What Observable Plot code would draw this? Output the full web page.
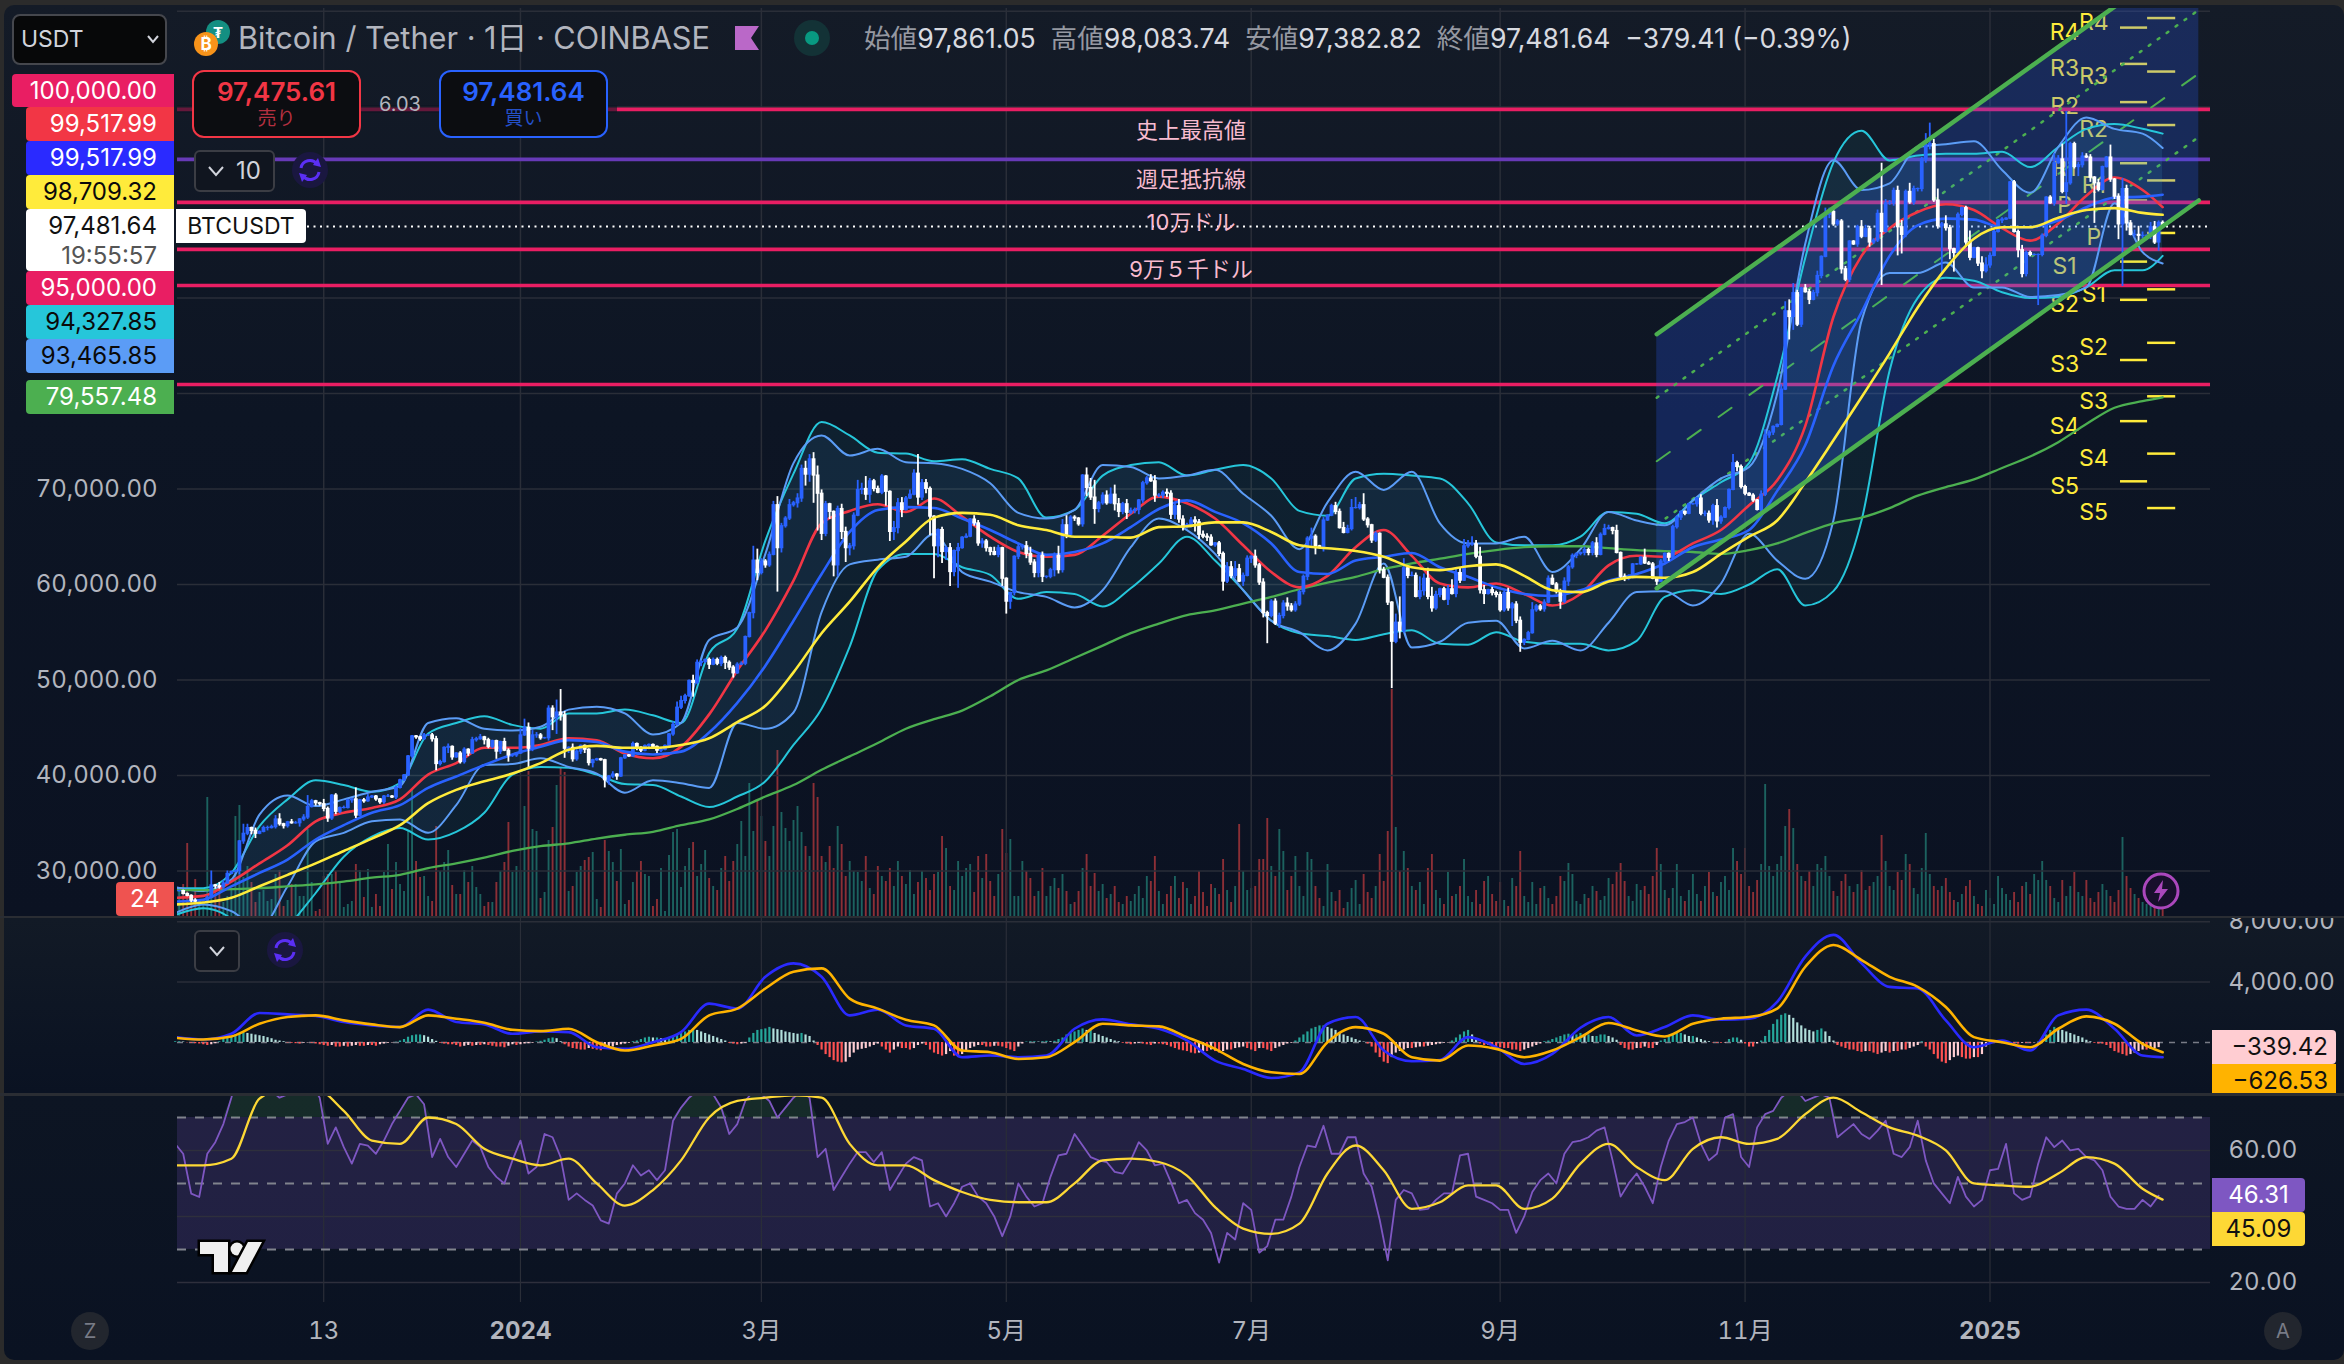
<!DOCTYPE html>
<html lang="ja"><head><meta charset="utf-8">
<script src="https://cdn.jsdelivr.net/npm/d3@7"></script>
<script src="https://cdn.jsdelivr.net/npm/@observablehq/plot@0.6"></script>
<style>
html,body{margin:0;padding:0;background:#2b2b2b;width:2344px;height:1364px;overflow:hidden}
*{box-sizing:border-box}
#page{position:absolute;left:0;top:0;width:2344px;height:1364px;font-family:Inter,"Noto Sans CJK JP",sans-serif;overflow:hidden}
.pane{position:absolute;left:4px;right:0}
.lay{position:absolute;left:0}
.lay svg{display:block}
.a{position:absolute}
.b{position:absolute;font-size:24px;text-align:right;padding-right:17px;line-height:34px;height:34px;right:2170px;width:148px}
.ic{position:absolute;border-radius:50%}
</style></head><body><div id="page">
<div class="pane" style="top:5px;height:911px;background:linear-gradient(#141b27,#0d1524 45%,#0b1222);border-radius:10px 10px 0 0"></div>
<div class="pane" style="top:918px;height:175px;background:linear-gradient(#121a26,#0a1222)"></div>
<div class="pane" style="top:1096px;height:264px;background:linear-gradient(#0d1523,#0a1222);border-radius:0 0 10px 10px"></div>
<div id="charts"></div>

<div class="a" style="left:177px;top:105px;width:440px;height:8px;background:rgba(13,20,33,.6)"></div>
<div class="a" style="left:12px;top:14px;width:155px;height:51px;background:#070809;border:2px solid #45474d;border-radius:8px;color:#d1d4dc;font-size:23px;line-height:47px;padding-left:7px">USDT
  <svg class="a" style="left:133px;top:19px" width="12" height="9"><polyline points="1,1 6,7 11,1" fill="none" stroke="#d1d4dc" stroke-width="2"/></svg></div>
<svg class="a" style="left:190px;top:18px" width="44" height="42">
  <circle cx="28" cy="14" r="12" fill="#148f82"/><text x="28" y="20" font-size="15" fill="#fff" text-anchor="middle" font-weight="700">₮</text>
  <circle cx="16" cy="26" r="12" fill="#f7931a"/><text x="16" y="32" font-size="17" fill="#fff" text-anchor="middle" font-weight="700">₿</text></svg>
<div class="a" style="left:238px;top:18px;font-size:30.7px;line-height:40px;color:#b2b5be;white-space:nowrap">Bitcoin / Tether · 1日 · COINBASE</div>
<svg class="a" style="left:735px;top:26px" width="24" height="24"><polygon points="0,0 24,0 16,12 24,24 0,24" fill="#ba68c8"/></svg>
<svg class="a" style="left:794px;top:20px" width="36" height="36"><circle cx="18" cy="18" r="18" fill="#133236"/><circle cx="18" cy="18" r="7" fill="#089981"/></svg>
<div class="a" style="left:864px;top:20px;font-size:26.6px;line-height:36px;color:#d8dae0;white-space:nowrap"><span style="color:#9598a1">始値</span>97,861.05&nbsp; <span style="color:#9598a1">高値</span>98,083.74&nbsp; <span style="color:#9598a1">安値</span>97,382.82&nbsp; <span style="color:#9598a1">終値</span>97,481.64&nbsp; −379.41 (−0.39%)</div>

<div class="a" style="left:192px;top:70px;width:169px;height:68px;background:#0c0d11;border:2px solid #f23645;border-radius:12px;text-align:center;color:#f23645;font-size:26px;line-height:30px;padding-top:5px;font-weight:600">97,475.61<div style="font-size:19px;font-weight:400;line-height:23px;color:#b53040">売り</div></div>
<div class="a" style="left:378px;top:92px;width:44px;font-size:20px;line-height:24px;color:#b2b5be;text-align:center">6.03</div>
<div class="a" style="left:439px;top:70px;width:169px;height:68px;background:#0c0d11;border:2px solid #2962ff;border-radius:12px;text-align:center;color:#2962ff;font-size:26px;line-height:30px;padding-top:5px;font-weight:600">97,481.64<div style="font-size:19px;font-weight:400;line-height:23px;color:#2450c8">買い</div></div>

<div class="a" style="left:194px;top:150px;width:81px;height:42px;border:2px solid #3b3d44;border-radius:6px;background:#10151f;color:#d1d4dc;font-size:24px;line-height:38px;padding-left:40px">10
  <svg class="a" style="left:12px;top:14px" width="16" height="11"><polyline points="1,1 8,9 15,1" fill="none" stroke="#d1d4dc" stroke-width="2"/></svg></div>
<svg class="a" style="left:292px;top:152px" width="36" height="36"><circle cx="18" cy="18" r="18" fill="#1a1740"/><path d="M9 16a9 9 0 0 1 16-4M27 20a9 9 0 0 1-16 4" fill="none" stroke="#5b2ff5" stroke-width="3"/><polygon points="26,6 29,15 21,13" fill="#5b2ff5"/><polygon points="10,30 7,21 15,23" fill="#5b2ff5"/></svg>

<div class="b" style="left:12px;right:auto;width:162px;top:74px;height:33px;line-height:33px;background:#e91e63;color:#fff;border-radius:4px 0 0 4px">100,000.00</div>
<div class="b" style="left:26px;top:107px;background:#f23645;color:#fff;border-radius:4px 0 0 4px">99,517.99</div>
<div class="b" style="left:26px;top:141px;background:#2a2aff;color:#fff;border-radius:4px 0 0 4px">99,517.99</div>
<div class="b" style="left:26px;top:175px;background:#ffeb3b;color:#0a0a0a;border-radius:4px 0 0 4px">98,709.32</div>
<div class="b" style="left:26px;top:209px;height:62px;background:#fff;color:#111;border-radius:4px 0 0 4px">97,481.64<div style="color:#555;line-height:26px">19:55:57</div></div>
<div class="b" style="left:26px;top:271px;background:#e91e63;color:#fff;border-radius:4px 0 0 4px">95,000.00</div>
<div class="b" style="left:26px;top:305px;background:#26c6da;color:#0a0a0a;border-radius:4px 0 0 4px">94,327.85</div>
<div class="b" style="left:26px;top:339px;background:#5b9cf6;color:#0a0a0a;border-radius:4px 0 0 4px">93,465.85</div>
<div class="b" style="left:26px;top:380px;background:#4caf50;color:#fff;border-radius:4px 0 0 4px">79,557.48</div>
<div class="a" style="left:176px;top:209px;width:130px;height:34px;background:#fff;color:#111;font-size:23px;line-height:34px;text-align:center;border-radius:0 4px 4px 0">BTCUSDT</div>
<div class="a" style="left:116px;top:882px;width:58px;height:34px;background:#ef5350;color:#fff;font-size:24px;line-height:34px;text-align:center;border-radius:4px 0 0 4px">24</div>

<svg class="a" style="left:2142px;top:872px" width="38" height="38"><circle cx="19" cy="19" r="17" fill="#180f2c" stroke="#ab47bc" stroke-width="3"/><polygon points="21,8 12,21 18,21 16,30 26,17 20,17" fill="#ab47bc"/></svg>

<div class="a" style="left:194px;top:930px;width:46px;height:42px;border:2px solid #3b3d44;border-radius:6px;background:#10151f">
  <svg class="a" style="left:13px;top:14px" width="16" height="11"><polyline points="1,1 8,9 15,1" fill="none" stroke="#d1d4dc" stroke-width="2"/></svg></div>
<svg class="a" style="left:267px;top:932px" width="36" height="36"><circle cx="18" cy="18" r="18" fill="#1a1740"/><path d="M9 16a9 9 0 0 1 16-4M27 20a9 9 0 0 1-16 4" fill="none" stroke="#5b2ff5" stroke-width="3"/><polygon points="26,6 29,15 21,13" fill="#5b2ff5"/><polygon points="10,30 7,21 15,23" fill="#5b2ff5"/></svg>

<div class="a" style="left:2212px;top:1030px;width:124px;height:34px;background:#ffcdd2;color:#111;font-size:24px;line-height:34px;text-align:right;padding-right:8px;border-radius:0 4px 4px 0">−339.42</div>
<div class="a" style="left:2212px;top:1064px;width:124px;height:30px;background:#ffb300;color:#111;font-size:24px;line-height:34px;text-align:right;padding-right:8px;overflow:hidden">−626.53</div>
<div class="a" style="left:2212px;top:1178px;width:93px;height:34px;background:#7e57c2;color:#fff;font-size:24px;line-height:34px;text-align:center;border-radius:0 4px 4px 0">46.31</div>
<div class="a" style="left:2212px;top:1212px;width:93px;height:34px;background:#fdd835;color:#111;font-size:24px;line-height:34px;text-align:center;border-radius:0 4px 4px 0">45.09</div>

<svg class="a" style="left:196px;top:1238px" width="70" height="42"><g stroke="#000" stroke-width="5" paint-order="stroke" fill="#f0f0f0"><polygon points="4,4 32,4 32,34 18,34 18,16 4,16"/><circle cx="41" cy="11" r="6.5"/><polygon points="52,4 66,4 50,34 36,34"/></g></svg>
<div class="a" style="left:71px;top:1312px;width:38px;height:38px;border-radius:50%;background:#22262e;color:#787b86;font-size:20px;line-height:38px;text-align:center">Z</div>
<div class="a" style="left:2264px;top:1312px;width:38px;height:38px;border-radius:50%;background:#22262e;color:#787b86;font-size:20px;line-height:38px;text-align:center">A</div>
<div class="a" style="left:0;top:916px;width:2344px;height:2px;background:#2a2d33"></div>
<div class="a" style="left:0;top:1093px;width:2344px;height:3px;background:#2a2d33"></div>
</div>
<script>
// ---- daily closes, thousand USDT, from 2023-10-07 ----
const closes=[
27.9,27.9,27.6,27.4,26.9,26.8,26.9,26.9,27.2,28.5,28.4,28.3,28.7,29.7,29.9,30.0,33.1,33.9,34.5,34.2,33.9,34.1,34.5,34.5,34.6,
35.4,34.9,34.7,35.1,35.0,35.0,35.4,35.6,36.7,37.3,37.1,37.0,36.5,35.5,37.9,36.2,36.6,36.6,37.4,37.5,35.8,37.4,37.3,37.7,37.8,37.5,37.2,37.8,37.8,37.7,
38.7,39.5,40.0,42.0,44.1,44.0,43.8,44.2,44.2,43.8,41.2,41.4,42.9,43.0,41.9,42.3,41.4,42.7,42.3,43.7,43.8,44.0,43.7,43.0,43.6,42.5,43.5,42.6,42.1,42.1,42.3,
44.2,45.0,42.8,44.2,44.2,43.9,43.9,47.0,46.1,46.6,46.3,42.8,42.9,41.7,42.5,43.1,42.7,41.3,41.6,41.7,41.6,39.5,39.9,40.1,39.9,41.8,42.1,42.0,43.3,42.9,42.6,
43.1,43.2,43.0,42.6,42.7,43.1,44.3,45.3,47.1,47.8,48.3,49.9,49.7,51.8,51.9,52.1,51.6,52.1,51.7,52.3,51.8,51.3,50.7,51.6,51.7,54.5,57.0,62.5,61.2,
62.4,62.0,63.1,68.3,63.8,66.1,66.9,68.3,68.5,69.0,72.1,71.5,73.1,71.4,69.5,65.3,68.4,67.6,62.0,67.9,65.5,63.8,64.0,67.2,69.9,70.0,69.4,70.8,70.0,69.6,71.3,
69.7,65.5,65.9,68.5,67.8,69.0,69.4,71.6,69.1,70.6,70.0,67.1,64.0,65.7,63.4,63.8,61.3,63.5,63.8,64.9,65.0,66.8,66.4,64.3,64.5,63.8,63.4,63.1,63.8,60.6,
58.2,59.1,62.9,63.9,64.0,63.2,62.3,61.2,63.0,60.8,60.8,61.5,63.0,61.5,66.2,65.2,67.0,66.9,66.3,71.4,70.1,69.1,67.9,68.5,69.3,68.5,69.4,68.4,67.6,68.4,67.5,
67.7,67.8,68.8,70.6,71.1,70.8,69.3,69.3,69.6,69.5,67.3,68.2,66.8,66.0,66.2,66.7,66.5,65.2,65.0,64.9,64.1,64.3,63.2,60.3,61.8,60.9,61.6,60.3,60.9,62.7,
62.9,62.0,60.2,57.0,56.7,58.2,55.9,56.7,58.0,57.7,57.3,57.9,59.2,60.8,64.8,65.0,64.0,63.9,66.7,67.2,68.2,67.6,65.9,65.4,65.8,68.0,68.0,68.3,66.8,66.2,64.6,
65.3,61.5,60.7,58.1,54.0,56.0,55.1,61.7,60.9,60.9,58.7,59.3,60.6,58.7,57.5,58.9,59.5,58.4,59.5,59.0,61.2,60.4,64.0,64.2,64.2,62.9,59.4,59.0,59.4,59.1,58.9,
57.3,59.1,57.5,57.9,56.2,53.9,54.2,54.9,57.3,57.7,57.4,58.1,60.6,60.0,59.2,58.2,60.3,61.8,63.0,63.2,63.3,63.6,63.3,64.3,63.1,65.2,65.8,65.9,65.6,63.3,
60.8,60.6,60.7,62.1,62.1,62.8,62.2,62.1,60.6,60.3,62.4,63.2,62.8,66.0,67.0,67.6,67.4,68.4,68.4,69.0,67.4,67.4,66.7,68.2,66.6,67.0,68.0,69.9,72.7,72.3,70.2,
69.5,69.3,68.8,67.8,69.4,75.6,75.9,76.5,76.7,80.4,88.6,88.0,90.5,87.2,91.0,90.6,89.8,90.5,92.3,94.3,98.7,99.0,97.7,98.0,93.0,91.9,95.9,95.6,97.4,96.4,
97.2,95.8,96.0,98.8,96.9,99.9,99.9,101.2,97.4,96.6,101.1,100.0,101.4,101.4,104.5,106.0,106.1,100.2,97.5,97.7,97.3,95.1,94.7,98.7,99.4,95.8,94.2,95.2,93.6,92.8,93.4,
94.4,96.9,98.1,98.2,98.3,102.1,96.9,95.0,92.5,94.7,94.5,94.5,94.5,96.5,100.5,99.9,104.1,104.5,101.1,102.0,106.1,103.7,103.9,104.8,104.7,102.6,102.0,101.3,103.7,104.7,102.4,
100.6,97.7,101.4,97.8,96.6,96.6,96.5,96.5,96.5,97.4,95.8,97.86,97.48];
const wickUp=[
.1,.1,.1,.1,.1,.2,.1,.1,.2,1.5,.1,.4,.3,.3,.1,.1,.1,1.0,.4,.1,.3,.1,.2,.2,.2,
.4,.6,.1,.1,.3,.2,.1,.3,1.2,.2,.1,.1,.5,.2,.1,.2,.1,.2,.1,.1,1.2,.1,.2,.3,.1,.1,.1,.1,.2,.1,
.2,.1,.1,.1,.1,.1,.1,.2,.1,.2,.3,.2,.1,.3,.1,.1,.2,.2,.1,.3,.2,.3,.1,.2,.1,.1,.1,.4,.2,.1,.1,
.7,.9,.5,.5,.3,.2,.1,.3,.3,1.3,2.4,.4,.1,.4,.2,.1,.1,.1,.1,.1,.1,.1,.1,.3,.1,.1,.1,.1,.2,.1,.1,
.1,.1,.1,.1,.2,.1,.1,.3,.6,.5,.2,.1,.6,.3,.1,.1,.2,.2,.2,.2,.2,.2,.2,.2,.2,.1,.1,1.5,1.2,
.3,.2,.3,.4,.9,.3,.2,.6,.2,.5,.4,.8,.5,.7,1,.4,.3,.1,.1,.3,.5,.5,.3,.3,1,.6,1.3,.3,.2,.3,.2,
.1,.1,.7,.5,.6,.2,.5,.4,2,.4,.4,.2,.1,.1,.3,.2,.5,.1,.5,.1,.3,.1,.4,.3,.3,.2,.1,.5,.3,.1,
.1,.1,.1,.4,.2,.5,.7,.3,.2,.4,.1,.2,.3,1,.6,1,.2,.2,.1,.1,.8,1,1.8,.2,.3,.5,.7,1,.6,.2,.5,
.3,.2,.1,.2,.2,.4,.6,.2,.2,.4,.3,.3,.7,.4,.2,.3,.4,.3,.4,.3,.3,.1,.2,.2,.5,.6,.8,.5,.3,.3,
.1,.7,.2,.4,.2,.2,.3,.3,.3,.6,.3,.3,.2,.2,.2,.9,.2,.1,.3,.1,.2,.4,.3,.6,.4,.9,1.1,.3,1.2,.2,.1,
.2,.1,.3,.3,.1,.9,2.7,1,.1,.4,.3,1.5,.5,1.1,1,.4,.1,.2,.4,1,.5,.5,.7,.4,.8,.4,1,.5,.1,.3,.2,
.3,.2,.5,.2,.3,.4,.1,.2,.8,.2,.2,.3,.3,.4,.2,.3,.4,.2,.2,.1,.1,.3,.2,.2,.6,.2,.5,.3,.1,.6,
.1,.3,.3,.1,.1,.1,.9,.2,.2,.1,.2,.1,.1,.2,.2,.1,.1,.1,.1,.1,.4,.3,.3,.2,.7,.2,.1,.1,.9,.2,.2,
.2,.1,.2,.1,.4,.6,.2,.1,.1,.5,1,1.2,1,.3,.1,.4,.3,.3,.5,.1,.7,.4,.4,.2,.2,.3,.1,.1,.2,.7,
.4,.3,.2,.4,5.3,.4,.3,.3,.5,.7,.2,.9,.3,.1,.2,1.2,2.2,.5,1.2,.2,.9,.3,.1,.2,.1,.2,1.2,.1,.1,.7,.8,
.3,.2,.1,.2,.1,.1,.2,.2,.5,.2,.2,.1,.1,.2,.1,.2,1,.4,1.6,7.5,.2,.2,.3,.4,.3,.3,.1,.4,.1,.1,1.3,
.1,.3,1.1,.4,.3,.5,.9,.4,.1,.5,.6,.2,.2];
const wickDown=[
.1,.1,.1,.1,.2,.1,.1,.1,.1,.1,.3,.2,.2,.1,.1,.1,.4,.3,.2,.4,.5,.1,.1,.3,.1,
.2,.2,.3,.2,.1,.1,.4,.2,.2,.1,.3,.2,.3,.4,.2,.3,.2,.1,.1,.3,.3,.1,.2,.1,.1,.2,.2,.2,.1,.1,
.2,.1,.1,.1,.2,.2,.2,.1,.1,.3,.7,.2,.1,.6,.3,.1,.2,.2,.3,.1,.2,.1,.5,.2,.2,.8,.3,.1,.7,.2,.2,
.1,.1,2.1,.3,.3,.2,.1,.3,1.4,1.8,.6,1,.5,.3,.2,.3,.4,.3,.5,.1,.1,.8,.5,.2,.4,.1,.1,.1,.1,.3,.2,
.1,.4,.2,.3,.2,.1,.2,.2,.1,.2,.3,.1,1.5,.2,.4,.2,.5,.1,.2,.3,.7,.3,.5,.1,.1,.2,.1,.6,.8,
.2,.3,.2,.1,4.6,.5,.2,.2,.2,.5,.4,1.2,.8,2.9,3.9,.7,.3,.8,1.2,1.2,.8,1.5,.8,.4,.1,.5,.6,.9,.3,.1,.2,
1.5,1,.9,.6,.8,.1,.1,.1,.8,.3,.5,2,3.4,1.2,1.2,.9,1.5,.5,3.9,.1,.1,.1,.3,.3,.5,.4,.4,.1,.3,.8,
1.3,.8,.3,.3,.3,.5,.3,.5,.5,.6,.2,.2,.7,.4,.3,.4,.3,.3,.2,.3,.9,.3,1.6,.4,.2,.2,.1,.7,.6,.3,.7,
.2,.3,.5,.3,.2,.1,.7,.2,.3,.4,.5,.5,.4,.4,.2,.3,1,.5,.2,.4,.1,.2,.3,1,.2,.3,.3,.1,.5,.1,
.5,.3,.3,.5,2.9,.2,.2,.5,.3,.5,.2,.2,.2,.3,.4,.8,.9,.2,.5,.1,.1,.3,.1,.1,.1,.2,.1,.2,.2,.3,.3,
.2,.4,.1,.3,4.9,.2,.8,.2,.3,.1,.1,.3,.5,.3,.4,.2,.3,.1,.6,.1,.4,.3,.1,.2,.2,.2,.4,1.1,.1,.3,.3,
.2,.2,.3,1.9,.3,1,.3,.1,.1,.2,.2,.3,.1,.1,.2,.8,.2,.5,.2,.3,.2,.3,.3,.3,.3,.1,.1,.1,.4,.1,
.2,.3,.2,.1,.1,.1,.1,.1,.1,.4,.1,.1,.4,.2,.2,.3,.2,.1,.1,.3,.2,.3,.3,.5,.7,.3,.1,.2,.1,.5,.2,
.2,.1,.2,.1,.3,.2,.3,.3,.1,.1,.1,2.4,1.4,.2,.3,.1,.5,.1,.4,.3,.1,.4,.2,.2,.5,.2,.3,.1,.3,.2,
.1,.5,.2,.2,5.6,.1,.2,.3,3,2,.3,.2,.3,.3,.3,.4,.5,.2,.3,5,.3,1.1,2,.3,.2,.5,.3,.1,.3,.8,.2,
.3,.1,.1,.3,.1,.1,.1,.8,.4,.3,.2,.1,5.3,.2,.2,.1,.3,.1,.2,1.3,.2,.2,1,.3,.1,.5,4.2,.2,.1,.1,.3,
.3,1.6,6.5,.8,.1,.3,.9,.3,.5,.4,.2,.9,.1];
// daily volume, in the pixel height it was read at
const volumes=[12,28,32,73,22,37,15,12,119,30,28,32,14,20,26,100,111,39,50,34,14,24,26,15,17,42,46,10,16,32,32,20,20,87,34,5,7,40,42,42,45,35,9,12,15,52,46,19,47,9,22,10,44,72,27,54,32,25,85,127,55,39,40,20,15,90,45,54,66,31,22,22,46,34,50,29,22,10,14,14,34,45,54,94,44,50,46,110,145,87,85,18,24,76,89,131,148,144,25,30,44,50,56,59,64,17,9,76,65,54,35,67,12,16,34,45,55,42,40,10,17,48,5,61,84,87,29,50,68,74,40,52,66,38,30,26,48,60,35,55,72,95,60,133,85,116,100,75,60,90,166,104,88,75,96,110,84,70,60,133,119,60,54,70,48,90,72,40,55,45,44,35,60,28,22,50,40,35,48,30,55,40,32,46,22,34,45,38,26,42,44,80,68,30,26,55,40,48,52,24,60,38,62,35,20,42,87,63,77,20,20,55,45,38,20,25,48,20,30,38,28,42,25,12,14,25,48,62,30,43,25,32,18,22,30,14,12,20,15,22,30,18,40,35,60,25,12,22,30,40,18,34,28,12,20,45,24,10,32,28,22,57,26,14,30,92,45,26,28,30,57,57,98,50,40,87,65,26,40,60,30,20,64,57,30,18,10,52,24,15,26,8,14,28,36,12,42,24,18,30,62,35,85,227,89,45,65,48,30,26,34,12,48,62,26,18,12,44,20,22,30,57,20,14,26,12,35,40,22,15,34,16,10,38,30,65,20,14,34,12,28,30,18,12,20,40,35,53,42,15,12,22,18,30,25,16,20,38,32,44,53,35,20,15,32,26,30,22,40,68,52,26,18,28,52,20,15,26,42,22,15,30,44,24,20,34,40,26,68,55,42,68,30,24,36,52,132,50,40,52,60,90,107,88,52,40,35,45,30,52,48,60,40,25,20,35,42,30,24,32,46,26,30,34,40,81,55,30,26,44,36,62,52,28,22,48,83,42,30,26,30,38,24,16,14,22,30,36,20,12,10,26,18,12,40,28,22,16,24,14,30,34,22,42,36,55,36,30,18,14,36,20,30,44,24,20,36,18,14,24,32,26,20,14,26,79,40,28,22,18,14,12,24,20,8,10];
// weekly readings, thousand USDT, from 2023-10-07 (last one is the last bar)
const maFast=[27.2,27.4,28.9,30.8,32.7,35.2,36.1,36.6,37.5,40.1,41.3,42.9,42.9,43.2,43.9,43.7,42.3,41.8,43,46.4,51,55.2,60.4,66.4,67.7,68.4,67.6,69,67.1,65,63.4,62.9,63.1,65.1,67.4,69.2,68.5,66.9,64.1,61.3,59.7,60.9,63.9,65.7,63,60.1,59.7,60.1,59,57.8,59,62,63,62.9,64.3,65.7,68.3,70.9,76.6,88,94.4,97.3,99,99.8,99.2,97.3,96,97.8,100.7,102.6,101.3,99.5];
const maMid=[26.8,27,28.4,29.8,31.2,33.3,34.8,36.1,36.9,38.7,39.9,41.1,42.2,43,43.7,43.5,42.5,42.2,42.5,44.5,47.6,51.5,56.2,61.1,65.5,67.8,68.1,68,66.9,65.7,64.3,63.1,63.4,64.3,66,67.9,68.8,67.6,66.4,64.3,61.3,61.1,62.5,62.9,63.3,61.8,60.8,59.7,59,58.8,59.4,60.4,61.1,62.2,63.9,64.7,65.7,69.8,74.6,82.9,88.5,94.4,97.6,98.3,98.2,97.4,97.4,98.1,99.5,100.5,100.6,100.8];
const maSlow=[26.5,26.7,27.2,28.4,29.6,30.8,32.1,33.4,34.8,37.1,38.5,39.4,40.2,41.3,42.7,43.1,42.9,42.9,43.2,43.9,45.6,47.3,50.8,54.9,58.2,61.8,64.5,67,67.5,67.3,66.2,65.7,65,65,64.9,66,66.1,66.5,66.5,65.5,64.1,63.8,63.5,62.9,61.8,61.5,61.9,62.1,60.9,59.4,59.2,60.3,60.8,60.7,61.3,63.2,65,66.7,70.7,75.1,79.6,84.2,89,93.1,96.2,97.4,97.4,98.4,99.2,99.4,98.9,98.7];
const maLong=[28,28,28.1,28.2,28.4,28.6,28.9,29.3,29.6,30.3,30.8,31.4,32.1,32.6,32.9,33.4,33.8,34.1,34.8,35.4,36.5,37.8,39,40.6,42,43.4,44.9,45.9,46.8,48.3,50,51,52.3,53.6,54.9,55.9,56.8,57.3,58,58.7,59.5,60.2,60.8,61.6,62.2,62.7,63.2,63.6,63.9,64,64,63.8,63.6,63.5,63.4,63.2,63.6,64.3,65.4,66.4,67,68,69.3,70.2,71,72.2,73.4,74.9,76.8,78.5,79.2,79.6];
const bandAUpper=[28.2,28.2,29.8,34.7,37.5,39.5,39,38.3,39.2,44.4,45.5,46.2,45.3,44.9,46.5,46.5,46.9,46.3,45.5,52.8,55.4,64.6,71.6,77,75.6,73.8,73.7,72.9,73.1,72.1,71.1,67,67.8,71.4,72.5,72.8,71.4,72,72.5,71.1,67.7,67.2,71.1,71.6,71.4,71.1,68.5,64.4,64.1,64.1,65,67.6,67.4,66.4,68.8,70.7,72.7,81.7,94.2,104.2,107.5,104.4,104.9,105.1,105.1,105.3,103.7,105.8,107.7,108.2,107.7,107.2];
const bandALower=[25.4,26.1,25,20,24,27.7,31.5,33.6,34.5,33.3,34.1,36.1,40.1,40.9,40.8,40.1,39.1,39,37.8,36.7,37.8,39.4,43.2,47,53.5,61.5,63.2,63.2,61.8,61,58.5,59.2,59,57.7,59.6,62.2,65,62.5,59.4,56.2,54.9,54.6,54.2,54.8,55.2,53.8,53.7,55,54,53.8,53.8,53.1,54.1,58.7,59.4,59,60,61.6,57.8,59.3,66.7,82.4,90,92.1,91.8,90.6,90,90.1,91.1,92.9,92.9,94.4];
const bandBUpper=[28.3,27.9,29.1,35.9,37.9,36.8,37.5,38.3,38.9,45.5,46,44.9,44.7,45.1,46.9,47.2,46.5,44.3,45.5,54.2,55.5,63.2,72.7,75.6,73.5,74.2,72.8,72.7,72.1,70.6,67.5,66.9,67.8,72.5,72.3,71.1,71.4,72,69.5,67.2,63.7,68.6,71.8,69.9,71.8,66.4,64.3,64.3,65,61.3,63.7,67.6,66.7,66.2,68.8,71.1,72.3,80,95.7,104.4,101.3,102,105.8,106.1,106.4,103.4,101,105.8,108.9,107.7,107.2,105.7];
const bandBLower=[25.6,26.5,25.8,24,28.4,33.1,34,35.2,35.4,34,36.9,41.1,41.2,41.8,40.9,40.2,38.2,39.5,39.2,38.7,45.5,44.9,46.6,57.1,62.1,62.6,62.9,65.3,61.3,60.3,59.2,58.7,57.6,59.4,63.9,66.9,65.7,63.2,59.4,56.2,55,53.1,55.9,62.2,53.4,54,56,56.2,53.3,54.1,53.1,56,59.2,59.3,57.8,60.1,65.3,62.5,60.6,66.7,87.6,92.6,92.6,93.7,91.1,91.1,90.1,90.3,91.1,99.9,94.8,93.6];
// horizontal levels, thousand USDT
const redLevels=[109.74,100,95.08,91.3,80.94];
const purpleLevels=[104.5];
const levelNotes=["史上最高値","週足抵抗線","10万ドル","9万５千ドル"];
const levelNoteY=[107.5,102.3,97.9,92.9];
const lastPrice=97.48164;
// channel, thousand USDT at its two ends
const channelDates=["2024-10-10","2025-02-22"];
const channelLow=[59.6,100.2], channelQ1=[66.25,106.85], channelMid=[72.9,113.5], channelQ3=[79.55,120.15], channelHigh=[86.2,126.8];
// pivot sets
const pivotNames=["R4","R3","R2","R1","P","S1","S2","S3","S4","S5"];
const pivotsA=[118.3,114.5,110.5,104.1,100.2,93.8,89.8,83.5,77.1,70.8];
const pivotsB=[119.3,113.7,108.1,102.3,96.8,90.9,85.3,79.7,73.7,68];
// MACD (USDT, weekly) and histogram (hundred USDT, daily)
const macdLine=[355,200,577,1954,1865,1754,1354,1132,1021,2176,1354,1199,577,733,688,-311,-422,22,688,2575,2242,4351,5239,4351,1798,2176,1132,910,-977,-866,-977,-866,910,1532,1199,910,133,-1199,-1754,-2353,-1976,1243,1687,-533,-1243,-1154,355,-311,-1421,-755,977,1687,466,1021,1798,1510,1576,2686,5683,7126,5239,3686,3574,1465,-311,133,-533,1798,2176,910,-866,-977];
const macdSignal=[311,200,400,1243,1687,1798,1465,1199,1021,1798,1576,1310,844,755,910,22,-533,-200,244,1798,2242,3574,4684,4906,2908,2242,1510,1132,-533,-644,-1088,-977,22,1243,1132,1066,355,-422,-1421,-1976,-2087,22,1021,577,-977,-1199,-200,-422,-977,-533,355,1287,799,400,1243,1576,1687,2242,5017,6460,5461,4351,3686,2353,355,22,-311,910,1732,1243,-89,-644];
const macdHist=[.5,.5,.3,-.2,-.5,-.8,-1,-1.5,-2,-1.5,-.8,.5,2,3,4,5,6,6.5,6,5.5,5,4.5,4,3.2,2.5,1.5,1,.5,-.3,-.5,-.8,-1,-.5,-.3,-.5,-1,-1.5,-2,-2.5,-2,-3,-3,-2.5,-3,-2.5,-2,-2.5,-2.5,-2,-2,-2.5,-1.5,-1,-.5,-.3,.2,1,2,3.5,4.5,5,5,4.5,3.5,2,.8,-.5,-1,-1.5,-1.5,-2,-3,-2.5,-2,-2.5,-2,-2,-1.5,-2,-2.5,-3,-3,-3.5,-2.5,-1.5,-2,-1.5,-1,-.8,-.5,.3,.8,1.5,2.5,3,2.5,.5,-1.5,-3,-4,-4.5,-5,-5,-4,-4.5,-5,-5.5,-4,-3.5,-3,-2,-1.5,-1,-.5,.5,1,2,3,3.5,3,3,2.5,2,2.5,4,5,6,7,8,9,8,7,6,5,4,3,2,1,-.5,-1,-1.5,-1,-.5,3,6,8,8.5,9,10,9,8.5,8,7,6.5,6,5.5,6,5,4,1,-2,-5,-8,-10,-12,-13,-13.5,-13,-10,-7,-5,-4.5,-4,-3,-2,-1,-3,-5,-7,-5,-3,-4,-4,-5,-4,-2,-1,-2,-5,-7,-8,-9,-8,-6,-9,-10,-8,-6,-4,-3,-2,-2,-3,-3,-2.5,-2.5,-3,-4,-5,-6,-3,-1,.3,.5,.5,.3,.5,.8,.5,.8,2,3,5,6,7,8,9,8,8,6,5,4,3,2,1,.5,-.5,-1,-1.5,-1,-.5,-1,-1.5,-2,-1,-1,-1.5,-2,-3,-4,-5,-5.5,-6,-7,-7.5,-7,-6,-6,-5,-6,-7,-6,-5,-5,-4,-3.5,-3,-4,-5,-6,-4,-4,-5,-6,-4,-3,-2,-1,-.5,1,3,5,7,9,10,11,11,10,9,8,6,5,4,3,2,1,.3,-1,-3,-7,-10,-13,-14,-10,-7,-6,-5,-4,-4,-3.5,-3,-3,-2.5,-2,-1.5,-1,-.5,-.3,1,3,5,7,8,5,2,-1,-2,-2,-3,-3,-3.5,-4,-4,-5,-5,-6,-5,-4,-3,-2,-1,.5,1,2,3,4,5,5.5,5,5,6,5,5,4,4,5,5,4,3,1.5,-2,-4,-5,-5,-4,-4,-3,-4,-4,-2,1,2,4,5,6,6,5,4,4,3,2,1,.5,-.3,-.5,-.5,-.3,2,3,3,1.5,-1,-3,-3,-1,1,4,8,12,15,18,19,18,16,13,11,9,8,7,8,9,7,4,1,-2,-3,-4,-5,-5,-6,-6.5,-6,-6,-7,-8,-7,-6,-7,-6,-6,-5,-5,-4,-3,-2,.5,-3,-5,-8,-11,-13,-14,-12,-10,-9,-10,-11,-11,-10,-10,-8,-3,.5,1,1,.5,-.5,-.5,-1,-1,-.5,-.5,-.5,-.3,.3,2,5,8,10,9,8,7,6,5,4,3,1.5,.5,-.5,-1,-1,-2,-4,-6,-7,-8,-9,-8,-7,-6,-5,-5,-4.5,-4,-3.4];
// RSI every second day, its average weekly
const rsiLine=[62,59,46.9,45.9,59,62.5,68,76,85,90,85,80,78,76,77,82,82,80,76,62,67,61,56,62,61.5,59,63,68,72,76,77,74,58,63.5,58,55,59,63,61,55,52,50,57,63,53,55,65,64,58,45,47,45,43.3,38.8,37.8,46.9,50,55.5,52.4,54,51,54,69,73,76,78,78,77,73,65,68,75,78,77,75,70,73,76,78,76,58,60.5,48,52,56,59.5,59.5,56.5,59.5,48,52,56,58,57,43,44,40,44,49,50,46,44,40,34,40,50,46,43,44,52,58.5,59,65,61.5,58,57,56.5,53.5,53,57,62.5,60,55.5,56,50.4,44,45,41,39,35,26,35,33,44,42,29,31,39,39,46,55,61.5,61,67.5,59,59,64,64,53,49,39,26.7,45,48,47,42,42.3,45,47,47,58.5,59,46,45,44,42,42,35,40,47.4,51,53,50,59,62.5,63,64,66,67,57,46,50,53,49,44,55,63,68,68.6,70,62,57,59,70,71,58,55,67,71,72,76,78,78,75,76,77,76,64,66,68,65,63.5,66,69,59,58,61,69,57,50,47,44,52,46,43,45,54,54.4,62,47,45,46,56,64,61,63,60,60.5,58,57,54,46,43,42.3,42.3,45,43,46.3];
const rsiAverage=[55.5,55.5,57.5,75.7,79,78.7,72,63,62,70,68,60.5,57.5,55.5,57.5,50,43.3,48,57,70,75,76,76.7,76,62,55.5,55.5,51,47.4,45,44.3,44.3,50,57,57.5,56.5,52.4,42.8,36.3,34.7,37.8,53,61.5,54,42.3,44.3,49.4,49.4,42.3,45.4,56,62,55,51,60.5,64,62,63.5,71,76,71.6,67,64.5,60,50,49.4,49,53,58,56,48.4,45.1];
// axis ticks
const priceTicks=[30,40,50,60,70];
const priceGrid=[30,40,50,60,70,80,90,100,110,120];
const macdTicks=[4000,8000];
const rsiTicks=[60,20], rsiGrid=[20,40,60], rsiBands=[70,50,30];
const monthDates=["2023-11-13","2024-03-01","2024-05-01","2024-07-01","2024-09-01","2024-11-01"];
const monthLabels=["13","3月","5月","7月","9月","11月"];
const yearDates=["2024-01-01","2025-01-01"];
const yearLabels=["2024","2025"];

const DAY=864e5, T0=Date.UTC(2023,9,7), dayDate=i=>new Date(T0+i*DAY);
const lastIdx=closes.length-1;
const knotDate=(_,i)=>dayDate(Math.min(i*7,lastIdx));
const parse=s=>new Date(s+(s.length===10?"T00:00Z":""));
const xDomain=[new Date("2023-10-07T14:00Z"),new Date("2025-02-24T22:00Z")];
const gridDates=[...monthDates,...yearDates].map(parse);
const W=2344,ML=177,MR=134;
const FONT='Inter,"Noto Sans CJK JP",sans-serif';
const GRID="#2a2e38",TXT="#b2b5be";
const base={width:W,marginLeft:ML,marginRight:MR,style:{background:"transparent",fontFamily:FONT,color:TXT,overflow:"hidden"}};
const xs={type:"utc",domain:xDomain,axis:null};

const candles=closes.map((c,i)=>{const o=i?closes[i-1]:c;return{date:dayDate(i),o,c,up:c>=o,
  h:Math.max(o,c)+(wickUp[i]??0),l:Math.min(o,c)-(wickDown[i]??0)}});
const upC="#2962ff",dnC="#ffffff";
const mkLine=(vals,stroke,strokeWidth,extra={})=>Plot.line(vals,{x:knotDate,y:d=>d,stroke,strokeWidth,curve:"monotone-x",clip:true,...extra});
const mkBand=(up,lo,fill)=>Plot.areaY(up.map((u,i)=>({u,l:lo[i],d:knotDate(null,i)})),{x:"d",y1:"l",y2:"u",fill,fillOpacity:.07,curve:"monotone-x",clip:true});
const chan=(vals,o)=>Plot.line(vals,{x:(_,i)=>parse(channelDates[i]),y:d=>d,clip:true,stroke:"#4caf50",...o});
const pivotTicks=(vals,a,b)=>Plot.ruleY(vals,{y:d=>d,x1:()=>parse(a),x2:()=>parse(b),stroke:"#ffeb3b",strokeWidth:2.5,clip:true});
const pivotText=(vals,at)=>Plot.text(vals,{x:()=>parse(at),y:d=>d,text:(_,i)=>pivotNames[i],fill:"#ffeb3b",fontSize:23,dy:5,clip:true});

const volChart=Plot.plot({...base,height:916,marginTop:8,marginBottom:0,x:xs,y:{domain:[0,908],axis:null},marks:[
  Plot.ruleX(volumes,{x:(_,i)=>dayDate(i),y1:0,y2:d=>d,strokeWidth:1.9,clip:true,
    stroke:(_,i)=>candles[i]&&candles[i].up?"#1c625f":"#8c2f36"})
]});

const mainChart=Plot.plot({...base,height:916,marginTop:8,marginBottom:0,x:xs,y:{domain:[25.24,120.3],axis:null},marks:[
  Plot.gridY(priceGrid,{stroke:GRID,strokeOpacity:1,strokeWidth:1.5}),
  Plot.gridX(gridDates,{stroke:GRID,strokeOpacity:1,strokeWidth:1.5}),
  Plot.axisY(priceTicks,{anchor:"left",tickSize:0,tickPadding:20,label:null,fontSize:24,tickFormat:d=>d3.format(",.2f")(d*1000)}),
  pivotTicks(pivotsA,"2025-02-02T12:00Z","2025-02-09T06:00Z"),
  pivotTicks(pivotsB,"2025-02-09T06:00Z","2025-02-16T06:00Z"),
  pivotText(pivotsA,"2025-01-19T14:00Z"),
  pivotText(pivotsB,"2025-01-26T20:00Z"),
  Plot.ruleY(redLevels,{y:d=>d,stroke:"#e91e63",strokeWidth:3.6}),
  Plot.ruleY(purpleLevels,{y:d=>d,stroke:"#673ab7",strokeWidth:3.6}),
  Plot.ruleY([lastPrice],{y:d=>d,stroke:"#fff",strokeWidth:2,strokeDasharray:"2,4.5"}),
  Plot.text(levelNotes,{x:()=>new Date("2024-06-16"),y:(_,i)=>levelNoteY[i],text:d=>d,fill:"#f8bbd0",fontSize:22}),
  Plot.areaY(channelDates.map((d,i)=>({d:parse(d),l:channelLow[i],u:channelHigh[i]})),{x:"d",y1:"l",y2:"u",fill:"#2f62ff",fillOpacity:.24,clip:true}),
  chan(channelQ1,{strokeWidth:2.5,strokeDasharray:"2,9"}),
  chan(channelQ3,{strokeWidth:2.5,strokeDasharray:"2,9"}),
  chan(channelMid,{strokeWidth:2,strokeDasharray:"16,22"}),
  mkBand(bandAUpper,bandALower,"#26c6da"),
  mkBand(bandBUpper,bandBLower,"#5b9cf6"),
  mkLine(bandAUpper,"#26c6da",2),mkLine(bandALower,"#26c6da",2),
  mkLine(bandBUpper,"#5b9cf6",2),mkLine(bandBLower,"#5b9cf6",2),
  mkLine(maLong,"#4caf50",2.3),
  mkLine(maFast,"#f23645",2.6),mkLine(maMid,"#2962ff",2.6),
  Plot.ruleX(candles,{x:"date",y1:"l",y2:"h",stroke:d=>d.up?upC:dnC,strokeWidth:1.8,clip:true}),
  Plot.ruleX(candles,{x:"date",y1:d=>Math.min(d.o,d.c)-.06,y2:d=>Math.max(d.o,d.c)+.06,stroke:d=>d.up?upC:dnC,strokeWidth:3.8,clip:true}),
  mkLine(maSlow,"#ffeb3b",2.6),
  chan(channelLow,{strokeWidth:4.5}),
  chan(channelHigh,{strokeWidth:4.5})
]});

const histColor=(v,i)=>{const p=i?macdHist[i-1]:0;return v>=0?(v>=p?"#26a69a":"#b2dfdb"):(v<=p?"#ff5252":"#ffcdd2")};
const macdChart=Plot.plot({...base,height:176,marginTop:0,marginBottom:0,x:xs,y:{domain:[-3444,8212],axis:null},marks:[
  Plot.gridY(macdTicks,{stroke:GRID,strokeOpacity:1,strokeWidth:1.5}),
  Plot.gridX(gridDates,{stroke:GRID,strokeOpacity:1,strokeWidth:1.2}),
  Plot.axisY(macdTicks,{anchor:"right",tickSize:0,tickPadding:18,label:null,fontSize:24,tickFormat:d=>d3.format(",.2f")(d)}),
  Plot.ruleY([0],{stroke:"#787b86",strokeWidth:1.5,strokeDasharray:"6,6"}),
  Plot.ruleX(macdHist,{x:(_,i)=>dayDate(i),y1:0,y2:d=>d*100,stroke:histColor,strokeWidth:2.2}),
  Plot.line(macdLine,{x:knotDate,y:d=>d,stroke:"#2a2aff",strokeWidth:2.6,curve:"monotone-x",clip:true}),
  Plot.line(macdSignal,{x:knotDate,y:d=>d,stroke:"#ffb300",strokeWidth:2.6,curve:"monotone-x",clip:true})
]});

const rsiDate=(_,i)=>dayDate(i*2);
const rsiChart=Plot.plot({...base,height:268,marginTop:0,marginBottom:62,x:xs,y:{domain:[13.9,76.36],axis:null},marks:[
  Plot.rect([{}],{x1:()=>xDomain[0],x2:()=>xDomain[1],y1:()=>30,y2:()=>70,fill:"#7e57c2",fillOpacity:.2}),
  Plot.gridY(rsiGrid,{stroke:"#2e2f3c",strokeOpacity:1,strokeWidth:1.5}),
  Plot.gridX(gridDates,{stroke:GRID,strokeOpacity:1,strokeWidth:1.2}),
  Plot.ruleY(rsiBands,{y:d=>d,stroke:"#80838d",strokeWidth:2,strokeDasharray:"9,9"}),
  Plot.areaY(rsiLine,{x:rsiDate,y1:()=>70,y2:d=>Math.max(d,70),fill:"#4caf50",fillOpacity:.14,clip:true}),
  Plot.axisY(rsiTicks,{anchor:"right",tickSize:0,tickPadding:18,label:null,fontSize:24,tickFormat:d=>d3.format(".2f")(d)}),
  Plot.axisX(monthDates.map(parse),{anchor:"bottom",tickSize:0,tickPadding:19,label:null,fontSize:24,tickFormat:(_,i)=>monthLabels[i]}),
  Plot.axisX(yearDates.map(parse),{anchor:"bottom",tickSize:0,tickPadding:19,label:null,fontSize:24,fontWeight:700,tickFormat:(_,i)=>yearLabels[i]}),
  Plot.line(rsiLine,{x:rsiDate,y:d=>d,stroke:"#7e57c2",strokeWidth:1.8,clip:true}),
  Plot.line(rsiAverage,{x:knotDate,y:d=>d,stroke:"#fdd835",strokeWidth:2.3,curve:"monotone-x",clip:true})
]});

const host=document.getElementById("charts");
[[volChart,0],[mainChart,0],[macdChart,918],[rsiChart,1096]].forEach(([svg,top])=>{
  const d=document.createElement("div");d.className="lay";d.style.top=top+"px";d.appendChild(svg);host.appendChild(d);
});
</script></body></html>
